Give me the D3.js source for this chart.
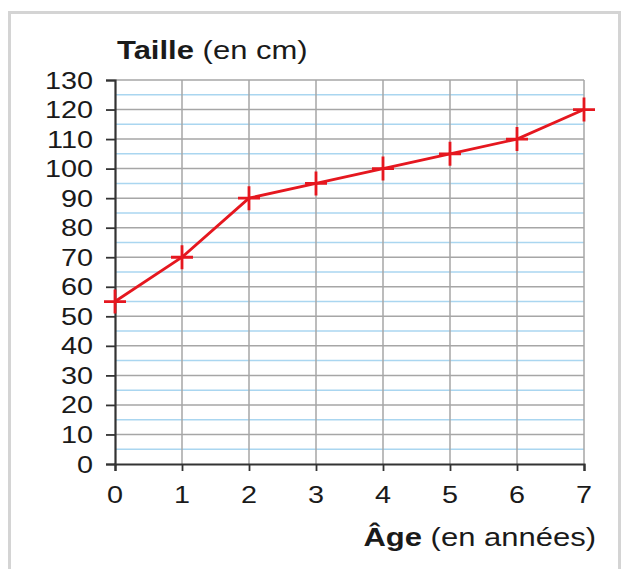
<!DOCTYPE html>
<html>
<head>
<meta charset="utf-8">
<title>Taille en fonction de l'âge</title>
<script src="https://d3js.org/d3.v7.min.js"></script>
<style>
  body { margin: 0; background: #fff; }
  text { font-family: "Liberation Sans", Arial, sans-serif; fill: #1a1a1a; }
</style>
</head>
<body>
<div id="viz"></div>
<script>
// data
const ages = [0, 1, 2, 3, 4, 5, 6, 7];
const heights = [55, 70, 90, 95, 100, 105, 110, 120];
const yTicks = [0, 10, 20, 30, 40, 50, 60, 70, 80, 90, 100, 110, 120, 130];
const yMinor = [5, 15, 25, 35, 45, 55, 65, 75, 85, 95, 105, 115, 125];

const W = 622, H = 569;
const plotL = 115, plotR = 584, plotT = 80, plotB = 464;
const sx = 1.2; // text in the picture is a bit wide

const svg = d3.select("#viz").append("svg")
  .attr("width", W).attr("height", H);

// frame
svg.append("rect")
  .attr("x", 9.5).attr("y", 12.5)
  .attr("width", 610).attr("height", 600)
  .attr("fill", "#fff")
  .attr("stroke", "#d4d4d4").attr("stroke-width", 3);

const x = d3.scaleLinear().domain([0, 7]).range([plotL, plotR]);
const y = d3.scaleLinear().domain([0, 130]).range([plotB, plotT]);

// grid: light blue half steps, gray full steps
svg.append("g").selectAll("line").data(yMinor).join("line")
  .attr("x1", plotL).attr("x2", plotR)
  .attr("y1", d => y(d)).attr("y2", d => y(d))
  .attr("stroke", "#aad6f0").attr("stroke-width", 1.5);

svg.append("g").selectAll("line").data(yTicks.slice(1)).join("line")
  .attr("x1", plotL).attr("x2", plotR)
  .attr("y1", d => y(d)).attr("y2", d => y(d))
  .attr("stroke", "#a6a6a6").attr("stroke-width", 1.5);

svg.append("g").selectAll("line").data(ages.slice(1)).join("line")
  .attr("x1", d => x(d)).attr("x2", d => x(d))
  .attr("y1", plotT).attr("y2", plotB)
  .attr("stroke", "#a6a6a6").attr("stroke-width", 1.5);

// axes
const yAxis = svg.append("g")
  .attr("transform", `translate(${plotL},0)`)
  .call(d3.axisLeft(y).tickValues(yTicks).tickSize(9).tickPadding(0).tickFormat(() => ""));
const xAxis = svg.append("g")
  .attr("transform", `translate(0,${plotB})`)
  .call(d3.axisBottom(x).tickValues(ages).tickSize(7).tickFormat(() => ""));
[yAxis, xAxis].forEach(a => {
  a.select(".domain").attr("stroke", "#333").attr("stroke-width", 2.2);
  a.selectAll(".tick line").attr("stroke", "#333").attr("stroke-width", 1.8);
});

// tick labels, stretched sideways like the picture
svg.append("g").selectAll("text").data(yTicks).join("text")
  .attr("transform", d => `translate(93,${y(d) + 8.5}) scale(${sx},1)`)
  .attr("text-anchor", "end")
  .attr("font-size", 24)
  .text(d => d);

svg.append("g").selectAll("text").data(ages).join("text")
  .attr("transform", d => `translate(${x(d)},503) scale(${sx},1)`)
  .attr("text-anchor", "middle")
  .attr("font-size", 24)
  .text(d => d);

// axis titles
const t1 = svg.append("text")
  .attr("transform", `translate(117,59) scale(1.24,1)`)
  .attr("font-size", 25);
t1.append("tspan").attr("font-weight", "bold").text("Taille");
t1.append("tspan").text(" (en cm)");

const t2 = svg.append("text")
  .attr("transform", `translate(596,546) scale(1.24,1)`)
  .attr("text-anchor", "end")
  .attr("font-size", 25);
t2.append("tspan").attr("font-weight", "bold").text("Âge");
t2.append("tspan").text(" (en années)");

// the line and its crosses
const pts = ages.map((a, i) => [a, heights[i]]);
svg.append("path")
  .datum(pts)
  .attr("fill", "none")
  .attr("stroke", "#e5171f").attr("stroke-width", 2.8)
  .attr("d", d3.line().x(d => x(d[0])).y(d => y(d[1])));

svg.append("g").selectAll("path").data(pts).join("path")
  .attr("d", d => {
    const cx = x(d[0]), cy = y(d[1]);
    return `M${cx - 11},${cy}H${cx + 11}M${cx},${cy - 12}V${cy + 12}`;
  })
  .attr("stroke", "#e5171f").attr("stroke-width", 2.8).attr("fill", "none");
</script>
</body>
</html>
